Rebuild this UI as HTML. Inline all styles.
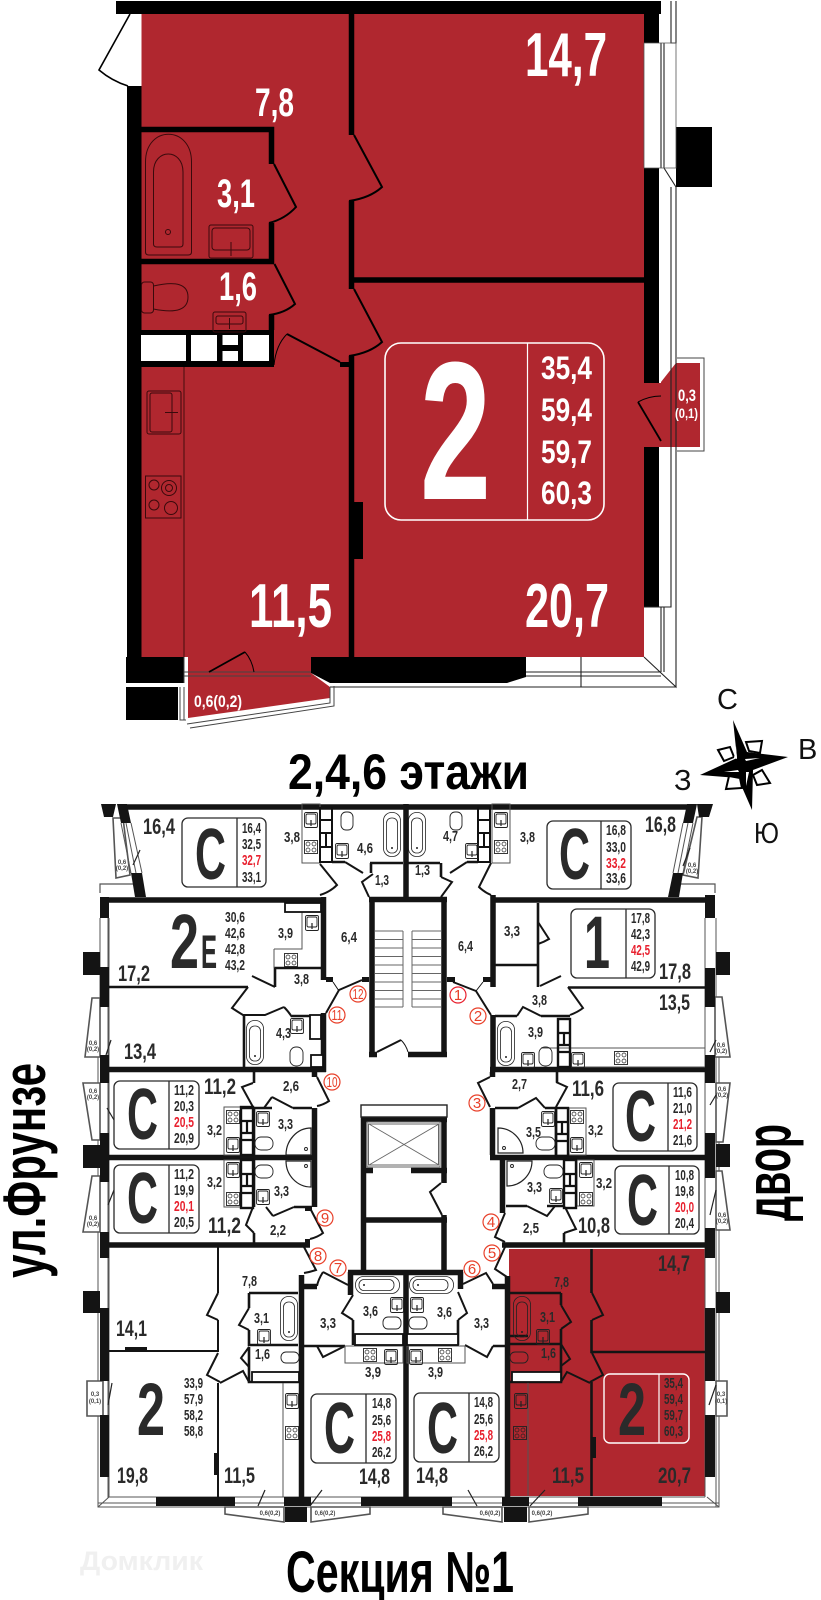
<!DOCTYPE html>
<html><head><meta charset="utf-8"><title>План</title>
<style>
html,body{margin:0;padding:0;background:#fff}
svg{display:block}
text{font-family:"Liberation Sans",sans-serif;font-weight:700}
.w text{fill:#fff}
.d text{fill:#2a2a2a}
.r{fill:#e8202e!important}
.n{font-weight:400;fill:#e8402a;font-size:15px;text-anchor:middle}
.t{font-size:6px;text-anchor:middle;fill:#444;font-weight:700}
.c{font-weight:400;fill:#111;font-size:29px}
</style></head><body>
<svg xmlns="http://www.w3.org/2000/svg" width="821" height="1600" viewBox="0 0 821 1600">
<defs>
<g id="sk"><rect x=".5" y=".5" width="13" height="15" rx="1.5" fill="none" stroke="#222" stroke-width=".9"/><rect x="2" y="2" width="10" height="10" rx="1.5" fill="none" stroke="#222" stroke-width=".9"/><path d="M7 8v6" stroke="#222" stroke-width="1.2"/></g>
<g id="ck"><rect x=".5" y=".5" width="13" height="13" fill="none" stroke="#222" stroke-width=".9"/><circle cx="4" cy="4" r="2" fill="none" stroke="#222" stroke-width=".7"/><circle cx="10" cy="4" r="2" fill="none" stroke="#222" stroke-width=".7"/><circle cx="4" cy="10" r="2" fill="none" stroke="#222" stroke-width=".7"/><circle cx="10" cy="10" r="2" fill="none" stroke="#222" stroke-width=".7"/></g>
<g id="bt"><rect x=".5" y=".5" width="17" height="44" rx="8" fill="none" stroke="#222" stroke-width=".8"/><rect x="3.5" y="6" width="11" height="35" rx="5" fill="none" stroke="#222" stroke-width=".8"/><circle cx="9" cy="36" r="1" fill="#222"/></g>
<g id="cell"><rect x="0" y="0" width="12" height="48" fill="none" stroke="#111" stroke-width="2.4"/><path d="M0 14H12M0 26H12M0 33H12M6 14V26" stroke="#111" stroke-width="2.2" fill="none"/></g>
</defs>
<rect width="821" height="1600" fill="#fff"/>

<!-- ========= UPPER PLAN ========= -->
<path d="M141.500 13H644V657H141.500Z" fill="#b0272f"/>
<path d="M644 383H676V447H644ZM661 382 676 363H700V447H661Z" fill="#b0272f"/>
<path d="M188 657H311V673L330 687V698L188 718Z" fill="#b0272f"/>
<rect x="116" y="1" width="545" height="13" fill="#000"/>
<path d="M644 13H659V43H644ZM644 168H659V383H644ZM644 447H659V607H644Z" fill="#000"/>
<rect x="676" y="127" width="36" height="60" fill="#000"/>
<path d="M671 1V43H676V1M661 43V168M664 43V168M664 168 676 187V687L644 657M671 187V607H644M661 607V672M664 607V672M526 672H661M526 676H661M330 687H676M581 657V687" fill="none" stroke="#222" stroke-width="1.100"/>
<path d="M644 43H676V168H644Z" fill="none" stroke="#555" stroke-width=".8"/>
<path d="M677 358H704V451H677" fill="none" stroke="#444" stroke-width="1"/>
<path d="M127 86H141.500V657H127Z" fill="#000"/>
<path d="M130 14 99 70Q112 81 128 86" fill="none" stroke="#000" stroke-width="1.600"/>
<path d="M141 129.500H271.500V164M271.500 223V261.500H141M271.500 315V330" fill="none" stroke="#000" stroke-width="5.500"/>
<rect x="141" y="330" width="133" height="37" fill="#000"/>
<path d="M141 335H186V361H141ZM191 335H217V361H191ZM222.500 335H238V345H222.500ZM222.500 351H238V361H222.500ZM243 335H269V361H243Z" fill="#fff"/>
<path d="M274 164 296 207Q285 219 269 223M274.500 264 295 304Q285 313 269 315M287 334 340 362M354 135 382 187Q370 198 349 201M354 289 382 342Q370 353 349 356" fill="none" stroke="#000" stroke-width="2"/>
<path d="M287 334Q276 345 274 365" fill="none" stroke="#000" stroke-width="1"/>
<rect x="340" y="362" width="14" height="5" fill="#000"/>
<path d="M351.500 13V135M351.500 201V289M351.500 356V657M354 280H644" fill="none" stroke="#000" stroke-width="5.500"/>
<rect x="349" y="502" width="14" height="57" fill="#000"/>
<path d="M184 367V657" stroke="#3a0a0c" stroke-width=".9"/>
<g fill="none" stroke="#3a0a0c" stroke-width="1">
<path d="M145.500 252V162C145.500 125 191.500 125 191.500 162V252Q191.500 255 188 255H149Q145.500 255 145.500 252Z"/>
<path d="M153.500 244V172C153.500 148 183 148 183 172V244Q183 247 180 247H157Q153.500 247 153.500 244Z"/>
<circle cx="168" cy="232" r="2.500"/>
<rect x="209" y="225" width="44" height="33" rx="2"/><rect x="212" y="228" width="38" height="22" rx="3"/>
<path d="M231 242V256"/>
<rect x="141.500" y="282" width="12" height="31" rx="3"/>
<path d="M153.500 286Q188 278 188 297 188 316 153.500 309"/>
<rect x="213" y="312" width="33" height="20" rx="2"/><rect x="216" y="316" width="27" height="8" rx="2"/><path d="M229.500 318V329"/>
<rect x="147" y="391" width="34" height="43" rx="2"/><rect x="150" y="393" width="22" height="39" rx="2"/><path d="M165 412.500H178"/>
<rect x="145.500" y="476" width="35.500" height="42"/>
<circle cx="154" cy="485" r="5"/><circle cx="169" cy="488" r="7.500"/><circle cx="169" cy="488" r="3.500"/><circle cx="154" cy="505" r="5"/><circle cx="171" cy="508" r="6.500"/>
</g>
<path d="M126 657H184V683H126ZM311 657H526V677L507 683H330L311 673Z" fill="#000"/>
<rect x="126" y="687" width="52" height="33" fill="#000"/>
<path d="M184 672H311M184 676H311M184 657V683M180 687V720H186M184 687V720" fill="none" stroke="#444" stroke-width="1"/>
<path d="M330 687V703L187 724" fill="none" stroke="#444" stroke-width="1"/>
<path d="M334 686V706L190 728" fill="none" stroke="#444" stroke-width="1"/>
<path d="M209 672 245 652" stroke="#000" stroke-width="1.800"/>
<path d="M245 652Q252 660 254 672" fill="none" stroke="#000" stroke-width="1"/>
<path d="M638 402 661 441" stroke="#000" stroke-width="1.800"/>
<path d="M638 402Q649 396 661 396" fill="none" stroke="#000" stroke-width="1"/>
<rect x="385" y="343" width="219" height="177" rx="16" fill="none" stroke="#fff" stroke-width="1.600"/>
<path d="M527.500 343V520" stroke="#fff" stroke-width="1.200"/>
<g class="w">
<text x="525" y="76" font-size="62" textLength="82" lengthAdjust="spacingAndGlyphs">14,7</text>
<text x="255" y="116" font-size="40" textLength="39" lengthAdjust="spacingAndGlyphs">7,8</text>
<text x="217" y="207" font-size="40" textLength="38" lengthAdjust="spacingAndGlyphs">3,1</text>
<text x="219" y="300" font-size="40" textLength="38" lengthAdjust="spacingAndGlyphs">1,6</text>
<text x="249" y="627" font-size="62" textLength="83" lengthAdjust="spacingAndGlyphs">11,5</text>
<text x="525" y="627" font-size="62" textLength="84" lengthAdjust="spacingAndGlyphs">20,7</text>
<text x="420" y="499" font-size="197" textLength="71" lengthAdjust="spacingAndGlyphs">2</text>
<text x="541" y="379" font-size="32" textLength="51" lengthAdjust="spacingAndGlyphs">35,4</text>
<text x="541" y="421" font-size="32" textLength="51" lengthAdjust="spacingAndGlyphs">59,4</text>
<text x="541" y="463" font-size="32" textLength="51" lengthAdjust="spacingAndGlyphs">59,7</text>
<text x="541" y="504" font-size="32" textLength="51" lengthAdjust="spacingAndGlyphs">60,3</text>
<text x="678" y="401" font-size="17" textLength="18" lengthAdjust="spacingAndGlyphs">0,3</text>
<text x="675" y="418" font-size="14" textLength="23" lengthAdjust="spacingAndGlyphs">(0,1)</text>
<text x="194" y="707" font-size="17" textLength="48" lengthAdjust="spacingAndGlyphs">0,6(0,2)</text>
</g>

<!-- compass -->
<path d="M733 720 747 752 788 757 753 770 752 810 738 778 700 775 737 758Z" fill="#000"/>
<path d="M718 750 730 747 734 757 724 761ZM762 741 760 753 749 751 746 742ZM770 783 757 785 753 775 762 770ZM726 789 729 776 740 778 742 788Z" fill="#fff" stroke="#000" stroke-width="2"/>
<path d="M736 746 737 759 734 758ZM760 758 746 761 745 759ZM746 786 746 772 749 772ZM724 772 738 770 739 772Z" fill="#fff"/>
<text class="c" x="717" y="709">С</text>
<text class="c" x="798" y="759">В</text>
<text class="c" x="674" y="790">З</text>
<text class="c" x="754" y="843" textLength="25" lengthAdjust="spacingAndGlyphs">Ю</text>

<!-- titles -->
<text x="288" y="789" font-size="50" textLength="241" lengthAdjust="spacingAndGlyphs" fill="#000">2,4,6 этажи</text>
<text x="286" y="1592" font-size="58" textLength="228" lengthAdjust="spacingAndGlyphs" fill="#000">Секция №1</text>
<text x="45" y="1278" font-size="60" textLength="215" lengthAdjust="spacingAndGlyphs" fill="#000" transform="rotate(-90 45 1278)">ул.Фрунзе</text>
<text x="790" y="1221" font-size="64" textLength="97" lengthAdjust="spacingAndGlyphs" fill="#000" transform="rotate(-90 790 1221)">двор</text>
<text x="80" y="1570" font-size="27" textLength="123" lengthAdjust="spacingAndGlyphs" fill="#f0f0f0">Домклик</text>

<!-- ========= LOWER PLAN ========= -->
<rect x="509" y="1249" width="196" height="247" fill="#b0272f"/>

<!-- frames -->
<path d="M98 1000V1507H719V1000M108 918V1497H705M716 918V1507M705 918V1497M100 918V1000M109 918V1497" fill="none" stroke="#555" stroke-width="1"/>
<path d="M98 1503H719M109 1497 98 1507M707 1497 719 1507" fill="none" stroke="#555" stroke-width="1"/>
<path d="M100 893V884H135M715 893V884H680" fill="none" stroke="#555" stroke-width="1.200"/>
<g fill="#fff" stroke="#555" stroke-width="1.600">
<path d="M113 818H123L130 875 116 878Z"/>
<path d="M92 998H100V1057H85Z"/>
<path d="M83 1083H100V1140H92Z"/>
<path d="M92 1176H100V1232H83Z"/>
<path d="M697 817H702L698 878 683 875Z"/>
<path d="M715 997H722L730 1057H715Z"/>
<path d="M716 1083H730L723 1142H716Z"/>
<path d="M716 1171H722L730 1230H716Z"/>
<path d="M87 1381H103V1416H87Z"/>
<path d="M716 1381H727V1416H716Z"/>
<path d="M225 1507H284V1522L225 1514Z"/>
<path d="M311 1507H370V1514L311 1522Z"/>
<path d="M443 1507H502V1522L443 1514Z"/>
<path d="M529 1507H588V1514L529 1522Z"/>
</g>

<!-- thick walls -->
<g fill="#141414">
<path d="M117 804H127L131 823H121ZM131 873H142L146 897H135Z"/>
<path d="M101 804H116L113 817H104Z"/>
<path d="M687 804H697L693 823H683ZM673 873H683L679 897H668Z"/>
<path d="M697 804H713L709 817H699Z"/>
<rect x="100" y="897" width="9" height="21"/><rect x="100" y="967" width="9" height="40"/><rect x="83" y="952" width="17" height="23"/>
<rect x="100" y="1055" width="9" height="28"/><rect x="100" y="1133" width="9" height="49"/><rect x="83" y="1145" width="17" height="23"/>
<rect x="100" y="1232" width="9" height="26"/><rect x="83" y="1291" width="17" height="22"/>
<rect x="100" y="1308" width="9" height="73"/><rect x="100" y="1415" width="9" height="62"/>
<rect x="705" y="895" width="10" height="23"/><rect x="705" y="968" width="10" height="39"/><rect x="716" y="952" width="14" height="23"/>
<rect x="705" y="1055" width="10" height="28"/><rect x="705" y="1133" width="10" height="45"/><rect x="716" y="1144" width="14" height="23"/>
<rect x="705" y="1228" width="10" height="30"/><rect x="716" y="1292" width="14" height="21"/>
<rect x="705" y="1308" width="10" height="73"/><rect x="705" y="1415" width="10" height="62"/>
<rect x="156" y="1497" width="79" height="9"/><rect x="284" y="1497" width="27" height="9"/><rect x="285" y="1507" width="22" height="15"/>
<rect x="361" y="1497" width="91" height="9"/><rect x="502" y="1497" width="27" height="9"/><rect x="504" y="1507" width="23" height="15"/>
<rect x="578" y="1497" width="84" height="9"/>
<rect x="125" y="1347" width="22" height="4"/><rect x="214" y="1453" width="5" height="22"/><rect x="591" y="1437" width="5" height="21"/>
<rect x="362" y="977" width="7" height="5"/><rect x="447" y="977" width="8" height="5"/><rect x="326" y="977" width="7" height="5"/><rect x="483" y="977" width="8" height="5"/>
<rect x="305" y="1239" width="5" height="5"/><rect x="305" y="1207" width="7" height="4"/>
</g>
<path d="M121 823 131 873M131 823 142 873M126 823 136 873M683 823 673 873M693 823 683 873M688 823 678 873" stroke="#555" stroke-width="1" fill="none"/>
<g fill="none" stroke="#141414" stroke-width="5.500">
<path d="M127 807H687M100 900H326M491 900H710"/>
<path d="M323.500 897V980M323.500 1013V1072M493 895V987M493 1015V1072"/>
<path d="M100 1069.500H326M490 1069.500H705M109 1157.500H317M490 1157.500H705"/>
<path d="M314.500 1072V1077M314.500 1108V1207M492.500 1072V1077M492.500 1108V1155M502.500 1160V1213"/>
<path d="M100 1245H310M502 1245H705"/>
<path d="M301.500 1275V1497M406 804V897M406 1270V1497M507.500 1276V1497"/>
<path d="M348 1272.500H463M350.500 1272V1295M460.500 1272V1289M299 1286.500H317M492 1286.500H505"/>
<!-- stair -->
<path d="M372 897V1057M444 897V1057M369 899.500H447M369 1054.500H377M408 1054.500H447"/>
<!-- lift -->
<path d="M363.500 1117V1270M444 1117V1183M444 1215V1270M361 1119.500H447M361 1220H447M361 1170.500H373M411 1170.500H447"/>
</g>
<!-- thin walls -->
<g fill="none" stroke="#141414" stroke-width="2.600">
<path d="M109 987H248M275 987V968H321M538 987V903M538 944V987M495 965H538M568 987.500H705M541 1016H570M495 1016H517M292 1016H326M244 1015V1067"/>
<path d="M332 862H345M370 863H403M371 863V873M407 863H440M441 863V877M467 862H478"/>
<path d="M254 1072V1083M254 1107V1155M254 1160V1207M254 1233V1243M293 1108H312M241 1108H272M294 1207H312"/>
<path d="M557 1072V1082M556 1108V1155M564 1233V1243M495 1108H518M545 1108H556M506 1206H527M547 1206H564"/>
<path d="M249 1293H298M249 1293V1308M249 1330V1345H298M249 1347V1382H300"/>
<path d="M510 1293H561M561 1293V1305M561 1329V1344H510M561 1344V1382H510M510 1336H528"/>
<path d="M353 1320V1345M458 1320V1345M304 1346H345M493 1346H505"/>
<path d="M591.500 1249V1293M591.500 1320V1352H705M591.500 1382V1496"/>
<path d="M218 1247V1293M218 1320V1351H109M218 1383V1497" stroke-width="2"/>
</g>
<!-- door leaves -->
<g fill="none" stroke="#141414" stroke-width="2">
<path d="M320 864 337 885Q330 892 320 895M362 980 339 990 326 1013M453 982 476 991 491 1015"/>
<path d="M491 863 479 887Q484 892 491 895M345 862 363 873M450 873 467 862M373 874 362 882 369 897M441 897 452 882 441 877"/>
<path d="M252 976 275 987M248 987 232 1008Q238 1012 243 1015H265L284 1007M292 1017Q288 1011 284 1007"/>
<path d="M538 922 549 939Q544 942 538 944M540 986 561 976M568 987 583 1008Q578 1012 570 1015M541 1016 523 1007 517 1016"/>
<path d="M317 1077 329 1101Q323 1105 317 1106M253 1083 242 1087 253 1107M272 1097 293 1108M272 1097 264 1108"/>
<path d="M311 1210 323 1233Q318 1237 310 1239M253 1207 246 1225 254 1233M273 1216 294 1207M273 1216 266 1207"/>
<path d="M304 1247 316 1270Q310 1272 304 1273M323 1272 348 1285M323 1272Q318 1280 317 1286"/>
<path d="M490 1107 478 1083 490 1077M518 1108 536 1098 545 1108M556 1107 567 1087 556 1082"/>
<path d="M527 1206 547 1216 555 1206M565 1207 576 1229 564 1233M505 1213 495 1237 505 1242M505 1247 495 1269 507 1277"/>
<path d="M218 1293 207 1315 218 1320M218 1353 207 1375 220 1382M220 1383 243 1371 249 1382"/>
<path d="M249 1308 239 1325 249 1330M249 1347 241 1358 249 1367"/>
<path d="M345 1346 323 1357 317 1346M353 1295 342 1313 353 1320M458 1292 467 1313 458 1320M465 1345 487 1357 493 1346M463 1284 486 1273 493 1284"/>
<path d="M561 1305 571 1322 561 1329M561 1344 570 1359 561 1366"/>
<path d="M592 1293 603 1315 592 1320M592 1353 603 1375 590 1382M590 1383 567 1372 561 1382"/>
<path d="M377 1052 401 1040"/>
<path d="M441 1183 430 1192 442 1215"/>
</g>
<path d="M401 1040Q406 1045 408 1052M339 991 333 982M476 991 483 982" fill="none" stroke="#141414" stroke-width="1"/>
<!-- balcony door leaves -->
<path d="M140 850 133 865M106 1055 111 1040M107 1108 114 1120M108 1205 114 1190M690 848 683 866M716 1040 710 1052M716 1095 710 1105M716 1190 710 1215M112 1383 108 1405M716 1385 709 1405M258 1506 265 1490M310 1506 322 1490M477 1506 468 1490M530 1506 545 1490" stroke="#222" stroke-width="1.200" fill="none"/>

<!-- stair details -->
<path d="M375 931H403M412 931H441M375 939.500H403M412 939.500H441M375 948H403M412 948H441M375 956.500H403M412 956.500H441M375 965H403M412 965H441M375 973.500H403M412 973.500H441M375 982H403M412 982H441M375 990.500H403M412 990.500H441M375 999H403M412 999H441M375 1007H403M412 1007H441M403 931V1007M412 931V1007" stroke="#666" stroke-width="1" fill="none"/>
<!-- lift details -->
<rect x="361" y="1105" width="86" height="12" fill="none" stroke="#222" stroke-width="1.400"/>
<rect x="367" y="1122" width="73" height="45" fill="none" stroke="#666" stroke-width="1"/>
<rect x="368.500" y="1124" width="70" height="41" fill="none" stroke="#666" stroke-width="1"/>
<path d="M369 1124 439 1165M439 1124 369 1165" stroke="#666" stroke-width=".9"/>

<!-- counters -->
<path d="M302 804H320V863H302ZM492 804H510V863H492ZM274 949H302V903M274 949V968M224 1107H241V1155H224ZM224 1160H241V1207H224ZM569 1108H586V1155H569ZM577 1160H594V1206H577ZM541 1048H705M570 1067H705M283 1383V1497M345 1346H403V1363H345ZM407 1346H465V1363H407ZM528 1382V1496" fill="none" stroke="#555" stroke-width="1"/>
<!-- shafts -->
<use href="#cell" x="241" y="1107"/>
<use href="#cell" x="241" y="1160"/>
<use href="#cell" x="556" y="1108"/>
<use href="#cell" x="564" y="1160"/>
<use href="#cell" x="558" y="1019"/>
<path d="M320 807V862H332V807M478 807V862H490V807M320 820H332M320 833H332M478 820H490M478 833H490M326 833V847M484 833V847M320 847H332M478 847H490" stroke="#111" stroke-width="2" fill="none"/>
<g fill="#fff" stroke="#111" stroke-width="1.800">
<rect x="252" y="1372" width="47" height="10"/>
<rect x="355" y="1334" width="48" height="11"/>
<rect x="407" y="1334" width="51" height="11"/>
<rect x="512" y="1372" width="49" height="10"/>
<rect x="285" y="903" width="36" height="9"/>
<rect x="310" y="1015" width="11" height="24"/>
<rect x="311" y="1055" width="12" height="12"/>
</g>
<!-- bath, sinks, etc. -->
<use href="#bt" x="383" y="812"/><use href="#bt" x="408" y="812"/>
<use href="#bt" x="246" y="1020"/><use href="#bt" x="497" y="1021"/>
<use href="#bt" x="280" y="1296"/><use href="#bt" x="513" y="1296"/>
<use href="#bt" transform="translate(400 1276) rotate(90)"/>
<use href="#bt" transform="translate(454 1276) rotate(90)"/>
<use href="#sk" x="304" y="812"/><use href="#sk" x="335" y="843"/><use href="#sk" x="305" y="915"/>
<use href="#sk" x="494" y="812"/><use href="#sk" x="465" y="843"/>
<use href="#sk" x="290" y="1018"/><use href="#sk" x="521" y="1052"/><use href="#sk" x="571" y="1052"/>
<use href="#sk" x="256" y="1111"/><use href="#sk" x="226" y="1137"/><use href="#sk" x="256" y="1189"/><use href="#sk" x="226" y="1162"/>
<use href="#sk" x="541" y="1111"/><use href="#sk" x="570" y="1137"/><use href="#sk" x="549" y="1188"/><use href="#sk" x="579" y="1162"/>
<use href="#sk" x="257" y="1329"/><use href="#sk" x="285" y="1393"/><use href="#sk" x="390" y="1297"/><use href="#sk" x="384" y="1349"/>
<use href="#sk" x="409" y="1349"/><use href="#sk" x="410" y="1297"/><use href="#sk" x="536" y="1329"/><use href="#sk" x="514" y="1393"/>
<use href="#ck" x="304" y="840"/><use href="#ck" x="494" y="840"/><use href="#ck" x="284" y="953"/><use href="#ck" x="614" y="1051"/>
<use href="#ck" x="226" y="1110"/><use href="#ck" x="226" y="1192"/><use href="#ck" x="570" y="1110"/><use href="#ck" x="579" y="1192"/>
<use href="#ck" x="285" y="1426"/><use href="#ck" x="513" y="1426"/><use href="#ck" x="363" y="1348"/><use href="#ck" x="438" y="1348"/>
<g fill="none" stroke="#222" stroke-width=".9">
<rect x="341" y="812" width="12" height="18" rx="5"/><rect x="450" y="812" width="12" height="18" rx="5"/>
<rect x="290" y="1047" width="13" height="19" rx="6"/><rect x="539" y="1047" width="13" height="19" rx="6"/>
<rect x="255" y="1137" width="18" height="13" rx="6"/><rect x="255" y="1165" width="18" height="13" rx="6"/>
<rect x="536" y="1137" width="19" height="13" rx="6"/><rect x="544" y="1165" width="19" height="13" rx="6"/>
<rect x="281" y="1352" width="18" height="11" rx="5"/><rect x="510" y="1352" width="18" height="11" rx="5"/>
<rect x="383" y="1317" width="18" height="12" rx="5"/><rect x="409" y="1317" width="18" height="12" rx="5"/>
<!-- showers -->
<path d="M286 1155A25 27 0 0 1 311 1128V1155Z" stroke-width="1.200"/><circle cx="306" cy="1149" r="1.500"/>
<path d="M286 1161A25 26 0 0 0 311 1187V1161Z" stroke-width="1.200"/><circle cx="306" cy="1166" r="1.500"/>
<path d="M498 1128A25 25 0 0 1 523 1153H498Z" stroke-width="1.200"/><circle cx="504" cy="1148" r="1.500"/>
<path d="M532 1161A25 25 0 0 1 507 1186V1161Z" stroke-width="1.200"/><circle cx="512" cy="1166" r="1.500"/>
</g>

<!-- LABELS -->
<g class="d">
<text x="143" y="834" font-size="22" textLength="32" lengthAdjust="spacingAndGlyphs">16,4</text>
<text x="284" y="842" font-size="15" textLength="16" lengthAdjust="spacingAndGlyphs">3,8</text>
<text x="357" y="853" font-size="15" textLength="16" lengthAdjust="spacingAndGlyphs">4,6</text>
<text x="375" y="885" font-size="15" textLength="14" lengthAdjust="spacingAndGlyphs">1,3</text>
<text x="443" y="841" font-size="15" textLength="15" lengthAdjust="spacingAndGlyphs">4,7</text>
<text x="520" y="842" font-size="15" textLength="15" lengthAdjust="spacingAndGlyphs">3,8</text>
<text x="415" y="875" font-size="15" textLength="15" lengthAdjust="spacingAndGlyphs">1,3</text>
<text x="645" y="832" font-size="22" textLength="31" lengthAdjust="spacingAndGlyphs">16,8</text>
<text x="278" y="938" font-size="15" textLength="15" lengthAdjust="spacingAndGlyphs">3,9</text>
<text x="118" y="981" font-size="22" textLength="32" lengthAdjust="spacingAndGlyphs">17,2</text>
<text x="294" y="984" font-size="15" textLength="15" lengthAdjust="spacingAndGlyphs">3,8</text>
<text x="341" y="942" font-size="15" textLength="16" lengthAdjust="spacingAndGlyphs">6,4</text>
<text x="124" y="1059" font-size="22" textLength="32" lengthAdjust="spacingAndGlyphs">13,4</text>
<text x="276" y="1038" font-size="15" textLength="15" lengthAdjust="spacingAndGlyphs">4,3</text>
<text x="504" y="936" font-size="15" textLength="16" lengthAdjust="spacingAndGlyphs">3,3</text>
<text x="458" y="951" font-size="15" textLength="15" lengthAdjust="spacingAndGlyphs">6,4</text>
<text x="659" y="979" font-size="22" textLength="32" lengthAdjust="spacingAndGlyphs">17,8</text>
<text x="659" y="1010" font-size="22" textLength="31" lengthAdjust="spacingAndGlyphs">13,5</text>
<text x="532" y="1005" font-size="15" textLength="15" lengthAdjust="spacingAndGlyphs">3,8</text>
<text x="528" y="1037" font-size="15" textLength="15" lengthAdjust="spacingAndGlyphs">3,9</text>
<text x="204" y="1094" font-size="22" textLength="32" lengthAdjust="spacingAndGlyphs">11,2</text>
<text x="283" y="1091" font-size="15" textLength="16" lengthAdjust="spacingAndGlyphs">2,6</text>
<text x="278" y="1129" font-size="15" textLength="15" lengthAdjust="spacingAndGlyphs">3,3</text>
<text x="207" y="1135" font-size="15" textLength="15" lengthAdjust="spacingAndGlyphs">3,2</text>
<text x="207" y="1187" font-size="15" textLength="15" lengthAdjust="spacingAndGlyphs">3,2</text>
<text x="274" y="1196" font-size="15" textLength="15" lengthAdjust="spacingAndGlyphs">3,3</text>
<text x="208" y="1233" font-size="22" textLength="33" lengthAdjust="spacingAndGlyphs">11,2</text>
<text x="270" y="1235" font-size="15" textLength="16" lengthAdjust="spacingAndGlyphs">2,2</text>
<text x="512" y="1089" font-size="15" textLength="15" lengthAdjust="spacingAndGlyphs">2,7</text>
<text x="572" y="1096" font-size="22" textLength="32" lengthAdjust="spacingAndGlyphs">11,6</text>
<text x="588" y="1135" font-size="15" textLength="15" lengthAdjust="spacingAndGlyphs">3,2</text>
<text x="526" y="1137" font-size="15" textLength="15" lengthAdjust="spacingAndGlyphs">3,5</text>
<text x="527" y="1192" font-size="15" textLength="15" lengthAdjust="spacingAndGlyphs">3,3</text>
<text x="596" y="1188" font-size="15" textLength="16" lengthAdjust="spacingAndGlyphs">3,2</text>
<text x="523" y="1233" font-size="15" textLength="16" lengthAdjust="spacingAndGlyphs">2,5</text>
<text x="578" y="1233" font-size="22" textLength="32" lengthAdjust="spacingAndGlyphs">10,8</text>
<text x="658" y="1271" font-size="22" textLength="32" lengthAdjust="spacingAndGlyphs">14,7</text>
<text x="242" y="1286" font-size="15" textLength="15" lengthAdjust="spacingAndGlyphs">7,8</text>
<text x="254" y="1323" font-size="15" textLength="15" lengthAdjust="spacingAndGlyphs">3,1</text>
<text x="116" y="1336" font-size="22" textLength="31" lengthAdjust="spacingAndGlyphs">14,1</text>
<text x="320" y="1328" font-size="15" textLength="16" lengthAdjust="spacingAndGlyphs">3,3</text>
<text x="363" y="1316" font-size="15" textLength="15" lengthAdjust="spacingAndGlyphs">3,6</text>
<text x="255" y="1359" font-size="15" textLength="15" lengthAdjust="spacingAndGlyphs">1,6</text>
<text x="365" y="1377" font-size="15" textLength="16" lengthAdjust="spacingAndGlyphs">3,9</text>
<text x="117" y="1483" font-size="22" textLength="31" lengthAdjust="spacingAndGlyphs">19,8</text>
<text x="224" y="1483" font-size="22" textLength="31" lengthAdjust="spacingAndGlyphs">11,5</text>
<text x="359" y="1484" font-size="22" textLength="31" lengthAdjust="spacingAndGlyphs">14,8</text>
<text x="416" y="1483" font-size="22" textLength="32" lengthAdjust="spacingAndGlyphs">14,8</text>
<text x="437" y="1317" font-size="15" textLength="15" lengthAdjust="spacingAndGlyphs">3,6</text>
<text x="474" y="1328" font-size="15" textLength="15" lengthAdjust="spacingAndGlyphs">3,3</text>
<text x="428" y="1377" font-size="15" textLength="15" lengthAdjust="spacingAndGlyphs">3,9</text>
<text x="554" y="1287" font-size="15" textLength="15" lengthAdjust="spacingAndGlyphs">7,8</text>
<text x="540" y="1322" font-size="15" textLength="15" lengthAdjust="spacingAndGlyphs">3,1</text>
<text x="541" y="1358" font-size="15" textLength="15" lengthAdjust="spacingAndGlyphs">1,6</text>
<text x="552" y="1483" font-size="22" textLength="32" lengthAdjust="spacingAndGlyphs">11,5</text>
<text x="658" y="1483" font-size="22" textLength="33" lengthAdjust="spacingAndGlyphs">20,7</text>

<!-- 2E -->
<text x="170" y="968" font-size="77" textLength="29" lengthAdjust="spacingAndGlyphs">2</text>
<text x="201" y="968" font-size="47" textLength="16" lengthAdjust="spacingAndGlyphs">Е</text>
<text x="225" y="922" font-size="15" textLength="20" lengthAdjust="spacingAndGlyphs">30,6</text>
<text x="225" y="938" font-size="15" textLength="20" lengthAdjust="spacingAndGlyphs">42,6</text>
<text x="225" y="954" font-size="15" textLength="20" lengthAdjust="spacingAndGlyphs">42,8</text>
<text x="225" y="970" font-size="15" textLength="20" lengthAdjust="spacingAndGlyphs">43,2</text>
<!-- 2 west -->
<text x="137" y="1435" font-size="74" textLength="28" lengthAdjust="spacingAndGlyphs">2</text>
<text x="184" y="1388" font-size="15" textLength="19" lengthAdjust="spacingAndGlyphs">33,9</text>
<text x="184" y="1404" font-size="15" textLength="19" lengthAdjust="spacingAndGlyphs">57,9</text>
<text x="184" y="1420" font-size="15" textLength="19" lengthAdjust="spacingAndGlyphs">58,2</text>
<text x="184" y="1436" font-size="15" textLength="19" lengthAdjust="spacingAndGlyphs">58,8</text>
<!-- 2 red -->
<text x="618" y="1435" font-size="74" textLength="28" lengthAdjust="spacingAndGlyphs">2</text>
<text x="664" y="1388" font-size="15" textLength="19" lengthAdjust="spacingAndGlyphs">35,4</text>
<text x="664" y="1404" font-size="15" textLength="19" lengthAdjust="spacingAndGlyphs">59,4</text>
<text x="664" y="1420" font-size="15" textLength="19" lengthAdjust="spacingAndGlyphs">59,7</text>
<text x="664" y="1436" font-size="15" textLength="19" lengthAdjust="spacingAndGlyphs">60,3</text>

<!-- studio C values -->
<text x="195" y="879" font-size="72" textLength="31" lengthAdjust="spacingAndGlyphs">С</text>
<text x="242" y="833" font-size="15" textLength="19" lengthAdjust="spacingAndGlyphs">16,4</text>
<text x="242" y="849" font-size="15" textLength="19" lengthAdjust="spacingAndGlyphs">32,5</text>
<text class="r" x="242" y="865" font-size="15" textLength="19" lengthAdjust="spacingAndGlyphs">32,7</text>
<text x="242" y="882" font-size="15" textLength="19" lengthAdjust="spacingAndGlyphs">33,1</text>

<text x="559" y="879" font-size="72" textLength="31" lengthAdjust="spacingAndGlyphs">С</text>
<text x="606" y="835" font-size="15" textLength="20" lengthAdjust="spacingAndGlyphs">16,8</text>
<text x="606" y="852" font-size="15" textLength="20" lengthAdjust="spacingAndGlyphs">33,0</text>
<text class="r" x="606" y="868" font-size="15" textLength="20" lengthAdjust="spacingAndGlyphs">33,2</text>
<text x="606" y="883" font-size="15" textLength="20" lengthAdjust="spacingAndGlyphs">33,6</text>

<text x="584" y="968" font-size="74" textLength="26" lengthAdjust="spacingAndGlyphs">1</text>
<text x="631" y="923" font-size="15" textLength="19" lengthAdjust="spacingAndGlyphs">17,8</text>
<text x="631" y="939" font-size="15" textLength="19" lengthAdjust="spacingAndGlyphs">42,3</text>
<text class="r" x="631" y="955" font-size="15" textLength="19" lengthAdjust="spacingAndGlyphs">42,5</text>
<text x="631" y="971" font-size="15" textLength="19" lengthAdjust="spacingAndGlyphs">42,9</text>

<text x="127" y="1139" font-size="72" textLength="31" lengthAdjust="spacingAndGlyphs">С</text>
<text x="174" y="1095" font-size="15" textLength="20" lengthAdjust="spacingAndGlyphs">11,2</text>
<text x="174" y="1111" font-size="15" textLength="20" lengthAdjust="spacingAndGlyphs">20,3</text>
<text class="r" x="174" y="1127" font-size="15" textLength="20" lengthAdjust="spacingAndGlyphs">20,5</text>
<text x="174" y="1143" font-size="15" textLength="20" lengthAdjust="spacingAndGlyphs">20,9</text>

<text x="127" y="1223" font-size="72" textLength="31" lengthAdjust="spacingAndGlyphs">С</text>
<text x="174" y="1179" font-size="15" textLength="20" lengthAdjust="spacingAndGlyphs">11,2</text>
<text x="174" y="1195" font-size="15" textLength="20" lengthAdjust="spacingAndGlyphs">19,9</text>
<text class="r" x="174" y="1211" font-size="15" textLength="20" lengthAdjust="spacingAndGlyphs">20,1</text>
<text x="174" y="1227" font-size="15" textLength="20" lengthAdjust="spacingAndGlyphs">20,5</text>

<text x="625" y="1141" font-size="72" textLength="31" lengthAdjust="spacingAndGlyphs">С</text>
<text x="673" y="1097" font-size="15" textLength="19" lengthAdjust="spacingAndGlyphs">11,6</text>
<text x="673" y="1113" font-size="15" textLength="19" lengthAdjust="spacingAndGlyphs">21,0</text>
<text class="r" x="673" y="1129" font-size="15" textLength="19" lengthAdjust="spacingAndGlyphs">21,2</text>
<text x="673" y="1145" font-size="15" textLength="19" lengthAdjust="spacingAndGlyphs">21,6</text>

<text x="627" y="1225" font-size="72" textLength="31" lengthAdjust="spacingAndGlyphs">С</text>
<text x="675" y="1180" font-size="15" textLength="19" lengthAdjust="spacingAndGlyphs">10,8</text>
<text x="675" y="1196" font-size="15" textLength="19" lengthAdjust="spacingAndGlyphs">19,8</text>
<text class="r" x="675" y="1212" font-size="15" textLength="19" lengthAdjust="spacingAndGlyphs">20,0</text>
<text x="675" y="1228" font-size="15" textLength="19" lengthAdjust="spacingAndGlyphs">20,4</text>

<text x="324" y="1453" font-size="72" textLength="31" lengthAdjust="spacingAndGlyphs">С</text>
<text x="372" y="1408" font-size="15" textLength="19" lengthAdjust="spacingAndGlyphs">14,8</text>
<text x="372" y="1425" font-size="15" textLength="19" lengthAdjust="spacingAndGlyphs">25,6</text>
<text class="r" x="372" y="1441" font-size="15" textLength="19" lengthAdjust="spacingAndGlyphs">25,8</text>
<text x="372" y="1457" font-size="15" textLength="19" lengthAdjust="spacingAndGlyphs">26,2</text>

<text x="427" y="1453" font-size="72" textLength="31" lengthAdjust="spacingAndGlyphs">С</text>
<text x="474" y="1407" font-size="15" textLength="19" lengthAdjust="spacingAndGlyphs">14,8</text>
<text x="474" y="1424" font-size="15" textLength="19" lengthAdjust="spacingAndGlyphs">25,6</text>
<text class="r" x="474" y="1440" font-size="15" textLength="19" lengthAdjust="spacingAndGlyphs">25,8</text>
<text x="474" y="1456" font-size="15" textLength="19" lengthAdjust="spacingAndGlyphs">26,2</text>
</g>
<!-- boxes -->
<g fill="none" stroke="#2a2a2a" stroke-width="1.300">
<rect x="182" y="818" width="84" height="69" rx="6"/><path d="M237 818V887"/>
<rect x="547" y="821" width="84" height="68" rx="6"/><path d="M601 821V889"/>
<rect x="571" y="909" width="84" height="69" rx="6"/><path d="M626 909V978"/>
<rect x="114" y="1081" width="85" height="68" rx="6"/><path d="M169 1081V1149"/>
<rect x="114" y="1165" width="85" height="68" rx="6"/><path d="M169 1165V1233"/>
<rect x="613" y="1083" width="84" height="68" rx="6"/><path d="M668 1083V1151"/>
<rect x="615" y="1166" width="84" height="68" rx="6"/><path d="M669 1166V1234"/>
<rect x="311" y="1394" width="85" height="69" rx="6"/><path d="M366 1394V1463"/>
<rect x="414" y="1393" width="85" height="69" rx="6"/><path d="M469 1393V1462"/>
</g>
<rect x="604" y="1374" width="85" height="69" rx="6" fill="none" stroke="#fff" stroke-width="1.400"/>
<path d="M659 1374V1443" stroke="#fff" stroke-width="1.200"/>

<!-- numbered circles -->
<g fill="#fff" stroke="#e8402a" stroke-width="1.200">
<circle cx="358" cy="994" r="8"/><circle cx="337" cy="1015" r="8"/><circle cx="458" cy="995" r="8" stroke="#e8202e"/><circle cx="478" cy="1016" r="8"/>
<circle cx="332" cy="1082" r="8"/><circle cx="325" cy="1218" r="8"/><circle cx="318" cy="1256" r="8"/><circle cx="338" cy="1268" r="8"/>
<circle cx="477" cy="1103" r="8"/><circle cx="491" cy="1222" r="8"/><circle cx="492" cy="1253" r="8"/><circle cx="472" cy="1269" r="8"/>
</g>
<g>
<text class="n" x="358" y="999" textLength="11" lengthAdjust="spacingAndGlyphs">12</text>
<text class="n" x="337" y="1020" textLength="11" lengthAdjust="spacingAndGlyphs">11</text>
<text class="n" x="458" y="1000">1</text>
<text class="n" x="478" y="1021">2</text>
<text class="n" x="332" y="1087" textLength="11" lengthAdjust="spacingAndGlyphs">10</text>
<text class="n" x="325" y="1223">9</text>
<text class="n" x="318" y="1261">8</text>
<text class="n" x="338" y="1273">7</text>
<text class="n" x="477" y="1108">3</text>
<text class="n" x="491" y="1227">4</text>
<text class="n" x="492" y="1258">5</text>
<text class="n" x="472" y="1274">6</text>
</g>
<!-- tiny balcony labels -->
<text class="t" x="122" y="864">0,6</text><text class="t" x="122" y="870">(0,2)</text>
<text class="t" x="93" y="1045">0,6</text><text class="t" x="93" y="1051">(0,2)</text>
<text class="t" x="93" y="1093">0,6</text><text class="t" x="93" y="1099">(0,2)</text>
<text class="t" x="93" y="1220">0,6</text><text class="t" x="93" y="1226">(0,2)</text>
<text class="t" x="692" y="867">0,6</text><text class="t" x="692" y="873">(0,2)</text>
<text class="t" x="721" y="1047">0,6</text><text class="t" x="721" y="1053">(0,2)</text>
<text class="t" x="722" y="1091">0,6</text><text class="t" x="722" y="1097">(0,2)</text>
<text class="t" x="722" y="1217">0,6</text><text class="t" x="722" y="1223">(0,2)</text>
<text class="t" x="95" y="1396">0,3</text><text class="t" x="95" y="1403">(0,1)</text>
<text class="t" x="721" y="1396">0,3</text><text class="t" x="721" y="1403">(0,1)</text>
<text class="t" x="270" y="1515">0,6(0,2)</text>
<text class="t" x="325" y="1515">0,6(0,2)</text>
<text class="t" x="490" y="1515">0,6(0,2)</text>
<text class="t" x="542" y="1515">0,6(0,2)</text>
</svg>
</body></html>
